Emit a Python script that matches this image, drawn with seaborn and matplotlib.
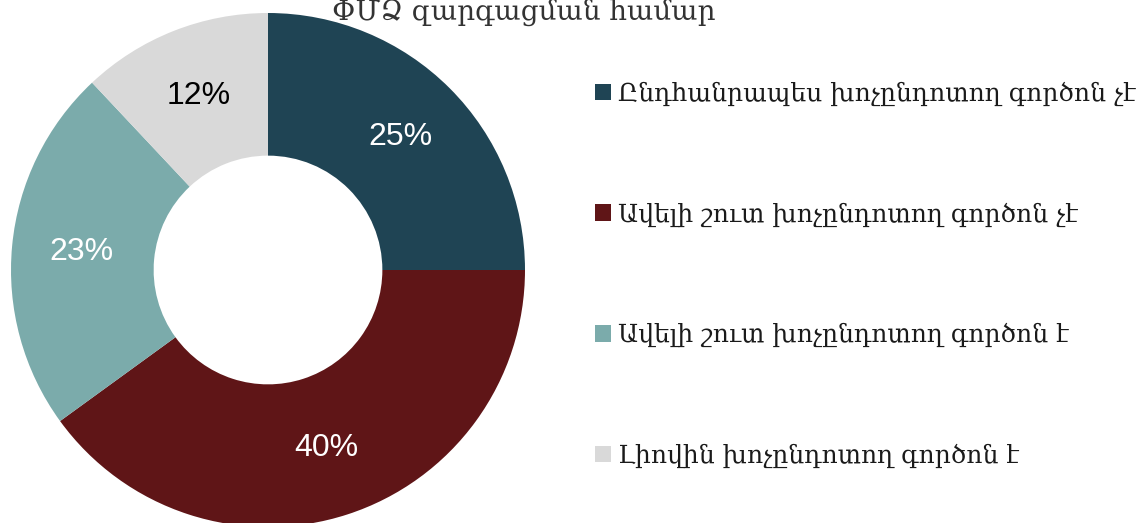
import matplotlib
matplotlib.use("Agg")
import matplotlib.pyplot as plt
import seaborn as sns
from matplotlib.patches import Patch

sns.set_theme(style="white")
plt.rcParams['font.family'] = ['DejaVu Serif', 'DejaVu Sans']

title = "ՓՄՁ զարգացման համար"
categories = [
    "Ընդհանրապես խոչընդոտող գործոն չէ",
    "Ավելի շուտ խոչընդոտող գործոն չէ",
    "Ավելի շուտ խոչընդոտող գործոն է",
    "Լիովին խոչընդոտող գործոն է",
]
values = [25, 40, 23, 12]
colors = ["#1F4454", "#5F1517", "#7BABAB", "#D9D9D9"]
label_colors = ["white", "white", "white", "black"]

W, H = 1147, 523
fig = plt.figure(figsize=(W / 100, H / 100), dpi=100)
cx, cy, r = 268, 270, 257
ax = fig.add_axes([(cx - r) / W, (H - cy - r) / H, 2 * r / W, 2 * r / H])
wedges, texts, autotexts = ax.pie(
    values, colors=colors, startangle=90, counterclock=False,
    radius=1, autopct="%d%%", pctdistance=0.73,
    wedgeprops=dict(width=0.555, edgecolor="none", linewidth=0),
    textprops=dict(fontsize=23, family=['Liberation Sans', 'DejaVu Sans']),
)
for t, c in zip(autotexts, label_colors):
    t.set_color(c)
ax.set_xlim(-1, 1)
ax.set_ylim(-1, 1)
ax.set_aspect("equal")
ax.axis("off")

fig.text(524 / W, 1 - 20 / H, title, ha="center", va="baseline",
         fontsize=20, color="#333333")

handles = [Patch(facecolor=c, edgecolor="none") for c in colors]
fig.legend(handles, categories, loc="upper left", bbox_to_anchor=(572 / W, 1 - 59 / H),
           frameon=False, fontsize=18, labelspacing=3.85, handlelength=0.65,
           handleheight=0.65, handletextpad=0.3, labelcolor="#1a1a1a")

fig.savefig("out.png", dpi=100)
